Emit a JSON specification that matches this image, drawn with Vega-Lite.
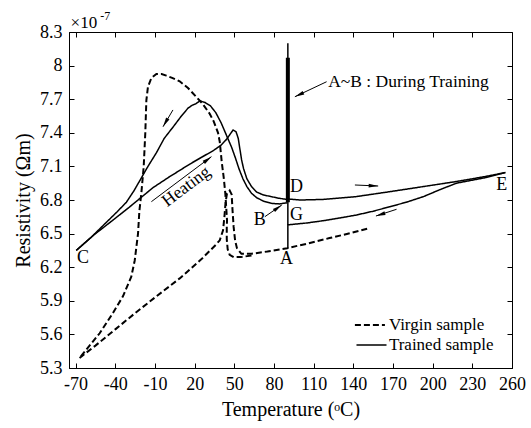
{
  "$schema": "https://vega.github.io/schema/vega-lite/v6.json",
  "width": 443,
  "height": 336,
  "autosize": {"type": "none"},
  "padding": {"left": 69, "top": 32, "right": 19, "bottom": 60},
  "config": {
    "font": "Liberation Serif",
    "view": {"stroke": "black", "strokeWidth": 1},
    "axis": {
      "grid": false,
      "domainColor": "black",
      "tickColor": "black",
      "labelColor": "black",
      "titleColor": "black",
      "labelFont": "Liberation Serif",
      "titleFont": "Liberation Serif",
      "labelFontSize": 18,
      "titleFontSize": 20,
      "titleFontWeight": "normal",
      "tickSize": -5,
      "labelPadding": 12,
      "labelFlush": false,
      "labelOverlap": false
    }
  },
  "datasets": {
    "curves": [
      {"s": "Virgin sample", "g": "V1", "i": 1, "x": -67, "y": 5.39},
      {"s": "Virgin sample", "g": "V1", "i": 2, "x": -55, "y": 5.5},
      {"s": "Virgin sample", "g": "V1", "i": 3, "x": -40, "y": 5.645},
      {"s": "Virgin sample", "g": "V1", "i": 4, "x": -25, "y": 5.79},
      {"s": "Virgin sample", "g": "V1", "i": 5, "x": -10, "y": 5.93},
      {"s": "Virgin sample", "g": "V1", "i": 6, "x": 8.7, "y": 6.1},
      {"s": "Virgin sample", "g": "V1", "i": 7, "x": 25, "y": 6.27},
      {"s": "Virgin sample", "g": "V1", "i": 8, "x": 36, "y": 6.4},
      {"s": "Virgin sample", "g": "V1", "i": 9, "x": 39, "y": 6.44},
      {"s": "Virgin sample", "g": "V1", "i": 10, "x": 41.5, "y": 6.53},
      {"s": "Virgin sample", "g": "V1", "i": 11, "x": 42.6, "y": 6.66},
      {"s": "Virgin sample", "g": "V1", "i": 12, "x": 43.4, "y": 6.78},
      {"s": "Virgin sample", "g": "V1", "i": 13, "x": 44.5, "y": 6.86},
      {"s": "Virgin sample", "g": "V1", "i": 14, "x": 46.5, "y": 6.885},
      {"s": "Virgin sample", "g": "V1", "i": 15, "x": 48, "y": 6.85},
      {"s": "Virgin sample", "g": "V1", "i": 16, "x": 48.6, "y": 6.72},
      {"s": "Virgin sample", "g": "V1", "i": 17, "x": 49.5, "y": 6.56},
      {"s": "Virgin sample", "g": "V1", "i": 18, "x": 50.6, "y": 6.44},
      {"s": "Virgin sample", "g": "V1", "i": 19, "x": 52, "y": 6.37},
      {"s": "Virgin sample", "g": "V1", "i": 20, "x": 55.4, "y": 6.32},
      {"s": "Virgin sample", "g": "V1", "i": 21, "x": 63, "y": 6.32},
      {"s": "Virgin sample", "g": "V1", "i": 22, "x": 75, "y": 6.34},
      {"s": "Virgin sample", "g": "V1", "i": 23, "x": 90, "y": 6.37},
      {"s": "Virgin sample", "g": "V1", "i": 24, "x": 105, "y": 6.41},
      {"s": "Virgin sample", "g": "V1", "i": 25, "x": 122, "y": 6.46},
      {"s": "Virgin sample", "g": "V1", "i": 26, "x": 138, "y": 6.505},
      {"s": "Virgin sample", "g": "V1", "i": 27, "x": 152.5, "y": 6.55},
      {"s": "Virgin sample", "g": "V2", "i": 1, "x": 63, "y": 6.305},
      {"s": "Virgin sample", "g": "V2", "i": 2, "x": 55, "y": 6.29},
      {"s": "Virgin sample", "g": "V2", "i": 3, "x": 49.5, "y": 6.29},
      {"s": "Virgin sample", "g": "V2", "i": 4, "x": 46.5, "y": 6.31},
      {"s": "Virgin sample", "g": "V2", "i": 5, "x": 45, "y": 6.36},
      {"s": "Virgin sample", "g": "V2", "i": 6, "x": 44.3, "y": 6.45},
      {"s": "Virgin sample", "g": "V2", "i": 7, "x": 44.3, "y": 6.55},
      {"s": "Virgin sample", "g": "V2", "i": 8, "x": 44.5, "y": 6.62},
      {"s": "Virgin sample", "g": "V2", "i": 9, "x": 43.2, "y": 6.86},
      {"s": "Virgin sample", "g": "V2", "i": 10, "x": 42, "y": 7.0},
      {"s": "Virgin sample", "g": "V2", "i": 11, "x": 40.5, "y": 7.14},
      {"s": "Virgin sample", "g": "V2", "i": 12, "x": 39, "y": 7.32},
      {"s": "Virgin sample", "g": "V2", "i": 13, "x": 37.7, "y": 7.4},
      {"s": "Virgin sample", "g": "V2", "i": 14, "x": 34.5, "y": 7.5},
      {"s": "Virgin sample", "g": "V2", "i": 15, "x": 31.4, "y": 7.57},
      {"s": "Virgin sample", "g": "V2", "i": 16, "x": 26, "y": 7.66},
      {"s": "Virgin sample", "g": "V2", "i": 17, "x": 21.3, "y": 7.72},
      {"s": "Virgin sample", "g": "V2", "i": 18, "x": 15, "y": 7.8},
      {"s": "Virgin sample", "g": "V2", "i": 19, "x": 8.7, "y": 7.86},
      {"s": "Virgin sample", "g": "V2", "i": 20, "x": 3, "y": 7.89},
      {"s": "Virgin sample", "g": "V2", "i": 21, "x": -1.4, "y": 7.91},
      {"s": "Virgin sample", "g": "V2", "i": 22, "x": -5, "y": 7.925},
      {"s": "Virgin sample", "g": "V2", "i": 23, "x": -8.9, "y": 7.925},
      {"s": "Virgin sample", "g": "V2", "i": 24, "x": -12.7, "y": 7.89},
      {"s": "Virgin sample", "g": "V2", "i": 25, "x": -15.3, "y": 7.81},
      {"s": "Virgin sample", "g": "V2", "i": 26, "x": -16.5, "y": 7.69},
      {"s": "Virgin sample", "g": "V2", "i": 27, "x": -17.3, "y": 7.4},
      {"s": "Virgin sample", "g": "V2", "i": 28, "x": -18.5, "y": 7.1},
      {"s": "Virgin sample", "g": "V2", "i": 29, "x": -20.3, "y": 6.86},
      {"s": "Virgin sample", "g": "V2", "i": 30, "x": -21.8, "y": 6.7},
      {"s": "Virgin sample", "g": "V2", "i": 31, "x": -22.8, "y": 6.5},
      {"s": "Virgin sample", "g": "V2", "i": 32, "x": -25.3, "y": 6.26},
      {"s": "Virgin sample", "g": "V2", "i": 33, "x": -27.9, "y": 6.115},
      {"s": "Virgin sample", "g": "V2", "i": 34, "x": -34.2, "y": 5.94},
      {"s": "Virgin sample", "g": "V2", "i": 35, "x": -41.8, "y": 5.79},
      {"s": "Virgin sample", "g": "V2", "i": 36, "x": -51.8, "y": 5.61},
      {"s": "Virgin sample", "g": "V2", "i": 37, "x": -67, "y": 5.39},
      {"s": "Trained sample", "g": "T1", "i": 1, "x": 90, "y": 6.775},
      {"s": "Trained sample", "g": "T1", "i": 2, "x": 84, "y": 6.765},
      {"s": "Trained sample", "g": "T1", "i": 3, "x": 78, "y": 6.77},
      {"s": "Trained sample", "g": "T1", "i": 4, "x": 72, "y": 6.79},
      {"s": "Trained sample", "g": "T1", "i": 5, "x": 67, "y": 6.82},
      {"s": "Trained sample", "g": "T1", "i": 6, "x": 63, "y": 6.86},
      {"s": "Trained sample", "g": "T1", "i": 7, "x": 59.5, "y": 6.92},
      {"s": "Trained sample", "g": "T1", "i": 8, "x": 56.5, "y": 6.99},
      {"s": "Trained sample", "g": "T1", "i": 9, "x": 53.5, "y": 7.08},
      {"s": "Trained sample", "g": "T1", "i": 10, "x": 51, "y": 7.17},
      {"s": "Trained sample", "g": "T1", "i": 11, "x": 48, "y": 7.27},
      {"s": "Trained sample", "g": "T1", "i": 12, "x": 44, "y": 7.38},
      {"s": "Trained sample", "g": "T1", "i": 13, "x": 40, "y": 7.49},
      {"s": "Trained sample", "g": "T1", "i": 14, "x": 36, "y": 7.58},
      {"s": "Trained sample", "g": "T1", "i": 15, "x": 32, "y": 7.64},
      {"s": "Trained sample", "g": "T1", "i": 16, "x": 28, "y": 7.67},
      {"s": "Trained sample", "g": "T1", "i": 17, "x": 24, "y": 7.685},
      {"s": "Trained sample", "g": "T1", "i": 18, "x": 21, "y": 7.66},
      {"s": "Trained sample", "g": "T1", "i": 19, "x": 18, "y": 7.645},
      {"s": "Trained sample", "g": "T1", "i": 20, "x": 15, "y": 7.62},
      {"s": "Trained sample", "g": "T1", "i": 21, "x": 10, "y": 7.55},
      {"s": "Trained sample", "g": "T1", "i": 22, "x": 3.6, "y": 7.45},
      {"s": "Trained sample", "g": "T1", "i": 23, "x": -3, "y": 7.35},
      {"s": "Trained sample", "g": "T1", "i": 24, "x": -9, "y": 7.22},
      {"s": "Trained sample", "g": "T1", "i": 25, "x": -15.3, "y": 7.1},
      {"s": "Trained sample", "g": "T1", "i": 26, "x": -21.6, "y": 6.97},
      {"s": "Trained sample", "g": "T1", "i": 27, "x": -26, "y": 6.88},
      {"s": "Trained sample", "g": "T1", "i": 28, "x": -31.6, "y": 6.78},
      {"s": "Trained sample", "g": "T1", "i": 29, "x": -39, "y": 6.69},
      {"s": "Trained sample", "g": "T1", "i": 30, "x": -46.8, "y": 6.6},
      {"s": "Trained sample", "g": "T1", "i": 31, "x": -58, "y": 6.47},
      {"s": "Trained sample", "g": "T1", "i": 32, "x": -69.5, "y": 6.35},
      {"s": "Trained sample", "g": "T2", "i": 1, "x": -69.5, "y": 6.35},
      {"s": "Trained sample", "g": "T2", "i": 2, "x": -56, "y": 6.49},
      {"s": "Trained sample", "g": "T2", "i": 3, "x": -41.8, "y": 6.62},
      {"s": "Trained sample", "g": "T2", "i": 4, "x": -30, "y": 6.73},
      {"s": "Trained sample", "g": "T2", "i": 5, "x": -22.8, "y": 6.8},
      {"s": "Trained sample", "g": "T2", "i": 6, "x": -11.5, "y": 6.91},
      {"s": "Trained sample", "g": "T2", "i": 7, "x": 0, "y": 7.0},
      {"s": "Trained sample", "g": "T2", "i": 8, "x": 16.3, "y": 7.12},
      {"s": "Trained sample", "g": "T2", "i": 9, "x": 25, "y": 7.18},
      {"s": "Trained sample", "g": "T2", "i": 10, "x": 34, "y": 7.24},
      {"s": "Trained sample", "g": "T2", "i": 11, "x": 40, "y": 7.29},
      {"s": "Trained sample", "g": "T2", "i": 12, "x": 44, "y": 7.34},
      {"s": "Trained sample", "g": "T2", "i": 13, "x": 47, "y": 7.39},
      {"s": "Trained sample", "g": "T2", "i": 14, "x": 49.1, "y": 7.425},
      {"s": "Trained sample", "g": "T2", "i": 15, "x": 51.3, "y": 7.41},
      {"s": "Trained sample", "g": "T2", "i": 16, "x": 53, "y": 7.35},
      {"s": "Trained sample", "g": "T2", "i": 17, "x": 54.3, "y": 7.25},
      {"s": "Trained sample", "g": "T2", "i": 18, "x": 55.5, "y": 7.16},
      {"s": "Trained sample", "g": "T2", "i": 19, "x": 57, "y": 7.08},
      {"s": "Trained sample", "g": "T2", "i": 20, "x": 59.5, "y": 6.99},
      {"s": "Trained sample", "g": "T2", "i": 21, "x": 63, "y": 6.92},
      {"s": "Trained sample", "g": "T2", "i": 22, "x": 67, "y": 6.87},
      {"s": "Trained sample", "g": "T2", "i": 23, "x": 72, "y": 6.845},
      {"s": "Trained sample", "g": "T2", "i": 24, "x": 78, "y": 6.83},
      {"s": "Trained sample", "g": "T2", "i": 25, "x": 84, "y": 6.815},
      {"s": "Trained sample", "g": "T2", "i": 26, "x": 90, "y": 6.805},
      {"s": "Trained sample", "g": "T3", "i": 1, "x": 90, "y": 6.81},
      {"s": "Trained sample", "g": "T3", "i": 2, "x": 100, "y": 6.8},
      {"s": "Trained sample", "g": "T3", "i": 3, "x": 117, "y": 6.805},
      {"s": "Trained sample", "g": "T3", "i": 4, "x": 142, "y": 6.83},
      {"s": "Trained sample", "g": "T3", "i": 5, "x": 168, "y": 6.875},
      {"s": "Trained sample", "g": "T3", "i": 6, "x": 193, "y": 6.92},
      {"s": "Trained sample", "g": "T3", "i": 7, "x": 218, "y": 6.965},
      {"s": "Trained sample", "g": "T3", "i": 8, "x": 240, "y": 7.01},
      {"s": "Trained sample", "g": "T3", "i": 9, "x": 255, "y": 7.045},
      {"s": "Trained sample", "g": "T4", "i": 1, "x": 255, "y": 7.045},
      {"s": "Trained sample", "g": "T4", "i": 2, "x": 240, "y": 7.0},
      {"s": "Trained sample", "g": "T4", "i": 3, "x": 218, "y": 6.95},
      {"s": "Trained sample", "g": "T4", "i": 4, "x": 205, "y": 6.89},
      {"s": "Trained sample", "g": "T4", "i": 5, "x": 193, "y": 6.83},
      {"s": "Trained sample", "g": "T4", "i": 6, "x": 180, "y": 6.78},
      {"s": "Trained sample", "g": "T4", "i": 7, "x": 167.7, "y": 6.74},
      {"s": "Trained sample", "g": "T4", "i": 8, "x": 155, "y": 6.7},
      {"s": "Trained sample", "g": "T4", "i": 9, "x": 142.4, "y": 6.666},
      {"s": "Trained sample", "g": "T4", "i": 10, "x": 130, "y": 6.64},
      {"s": "Trained sample", "g": "T4", "i": 11, "x": 117.2, "y": 6.615},
      {"s": "Trained sample", "g": "T4", "i": 12, "x": 105, "y": 6.595},
      {"s": "Trained sample", "g": "T4", "i": 13, "x": 92, "y": 6.58},
      {"s": "Trained sample", "g": "T4", "i": 14, "x": 90.5, "y": 6.58},
      {"s": "Trained sample", "g": "T4", "i": 15, "x": 90.5, "y": 6.37},
      {"s": "Trained sample", "g": "AB", "i": 1, "x": 90.5, "y": 6.58},
      {"s": "Trained sample", "g": "AB", "i": 2, "x": 90.5, "y": 8.2}
    ],
    "thick": [
      {"g": "AB", "i": 1, "x": 90.5, "y": 6.78},
      {"g": "AB", "i": 2, "x": 90.5, "y": 8.07}
    ],
    "key": [
      {"s": "Virgin sample", "x": 141.2, "x2": 163.9, "y": 5.684, "tx": 166.9},
      {"s": "Trained sample", "x": 142.4, "x2": 165.1, "y": 5.505, "tx": 166.9}
    ],
    "arrows": [
      {"x": 3.6, "y": 7.604, "x2": -3.9, "y2": 7.454, "dir": 210},
      {"x": -12.7, "y": 6.785, "x2": 32.7, "y2": 7.187, "dir": 53},
      {"x": 141.2, "y": 6.934, "x2": 158.8, "y2": 6.925, "dir": 92},
      {"x": 172.7, "y": 6.717, "x2": 157.1, "y2": 6.657, "dir": 252},
      {"x": 73.1, "y": 6.651, "x2": 85.9, "y2": 6.755, "dir": 55},
      {"x": 119.8, "y": 7.856, "x2": 95.8, "y2": 7.722, "dir": 245}
    ],
    "letters": [
      {"t": "A", "x": 89.5, "y": 6.27},
      {"t": "B", "x": 69.3, "y": 6.62},
      {"t": "C", "x": -64.5, "y": 6.28},
      {"t": "D", "x": 97, "y": 6.92},
      {"t": "G", "x": 97, "y": 6.666},
      {"t": "E", "x": 252.2, "y": 6.934}
    ],
    "notes": [
      {"t": "A~B : During Training", "x": 121, "y": 7.856}
    ],
    "heat": [
      {"t": "Heating", "x": 13.8, "y": 6.92}
    ],
    "expbase": [
      {"t": "×10", "x": -73.8, "y": 8.38}
    ],
    "exppow": [
      {"t": "-7", "x": -51.3, "y": 8.445}
    ]
  },
  "layer": [
    {
      "data": {"name": "curves"},
      "mark": {"type": "line", "color": "black", "strokeCap": "butt"},
      "encoding": {
        "x": {"field": "x", "type": "quantitative", "scale": {"domain": [-75, 260], "nice": false, "zero": false},
          "axis": {"orient": "bottom", "title": "Temperature (ᵒC)", "labelFont": "Liberation Serif", "values": [-70, -40, -10, 20, 50, 80, 110, 140, 170, 200, 230, 260], "labelExpr": "'' + datum.value", "titlePadding": 6}},
        "y": {"field": "y", "type": "quantitative", "scale": {"domain": [5.3, 8.3], "nice": false, "zero": false},
          "axis": {"orient": "left", "title": "Resistivity (Ωm)", "labelFont": "Liberation Serif", "values": [5.3, 5.6, 5.9, 6.2, 6.5, 6.8, 7.1, 7.4, 7.7, 8, 8.3], "format": "~g", "titlePadding": 6}},
        "detail": {"field": "g"},
        "order": {"field": "i", "type": "quantitative"},
        "strokeDash": {"field": "s", "type": "nominal",
          "scale": {"domain": ["Virgin sample", "Trained sample"], "range": [[6, 3], [1, 0]]}, "legend": null},
        "strokeWidth": {"field": "s", "type": "nominal", "scale": {"domain": ["Virgin sample", "Trained sample"], "range": [2, 1.5]}, "legend": null}
      }
    },
    {
      "data": {"name": "thick"},
      "mark": {"type": "line", "color": "black", "strokeWidth": 4},
      "encoding": {
        "x": {"field": "x", "type": "quantitative", "scale": {"domain": [-75, 260], "nice": false, "zero": false}, "axis": null},
        "y": {"field": "y", "type": "quantitative", "scale": {"domain": [5.3, 8.3], "nice": false, "zero": false}, "axis": null},
        "order": {"field": "i", "type": "quantitative"}
      }
    },
    {
      "data": {"name": "key"},
      "mark": {"type": "rule", "color": "black"},
      "encoding": {
        "x": {"field": "x", "type": "quantitative", "scale": {"domain": [-75, 260], "nice": false, "zero": false}, "axis": null},
        "y": {"field": "y", "type": "quantitative", "scale": {"domain": [5.3, 8.3], "nice": false, "zero": false}, "axis": null},
        "x2": {"field": "x2"},
        "strokeDash": {"field": "s", "type": "nominal",
          "scale": {"domain": ["Virgin sample", "Trained sample"], "range": [[6, 3], [1, 0]]}, "legend": null},
        "strokeWidth": {"field": "s", "type": "nominal", "scale": {"domain": ["Virgin sample", "Trained sample"], "range": [2, 1.5]}, "legend": null}
      }
    },
    {
      "data": {"name": "key"},
      "mark": {"type": "text", "font": "Liberation Serif", "fontSize": 17, "color": "black", "align": "left", "baseline": "middle"},
      "encoding": {
        "x": {"field": "tx", "type": "quantitative", "scale": {"domain": [-75, 260], "nice": false, "zero": false}, "axis": null},
        "y": {"field": "y", "type": "quantitative", "scale": {"domain": [5.3, 8.3], "nice": false, "zero": false}, "axis": null},
        "text": {"field": "s"}
      }
    },
    {
      "data": {"name": "arrows"},
      "mark": {"type": "rule", "color": "black", "strokeWidth": 1},
      "encoding": {
        "x": {"field": "x", "type": "quantitative", "scale": {"domain": [-75, 260], "nice": false, "zero": false}, "axis": null},
        "y": {"field": "y", "type": "quantitative", "scale": {"domain": [5.3, 8.3], "nice": false, "zero": false}, "axis": null},
        "x2": {"field": "x2"},
        "y2": {"field": "y2"}
      }
    },
    {
      "data": {"name": "arrows"},
      "mark": {"type": "point", "shape": "M0,0L-0.38,1.9L0.38,1.9Z", "filled": true, "color": "black", "size": 100, "opacity": 1},
      "encoding": {
        "x": {"field": "x2", "type": "quantitative", "scale": {"domain": [-75, 260], "nice": false, "zero": false}, "axis": null},
        "y": {"field": "y2", "type": "quantitative", "scale": {"domain": [5.3, 8.3], "nice": false, "zero": false}, "axis": null},
        "angle": {"field": "dir", "type": "quantitative", "scale": null}
      }
    },
    {
      "data": {"name": "letters"},
      "mark": {"type": "text", "font": "Liberation Serif", "fontSize": 18, "color": "black", "align": "center", "baseline": "middle"},
      "encoding": {
        "x": {"field": "x", "type": "quantitative", "scale": {"domain": [-75, 260], "nice": false, "zero": false}, "axis": null},
        "y": {"field": "y", "type": "quantitative", "scale": {"domain": [5.3, 8.3], "nice": false, "zero": false}, "axis": null},
        "text": {"field": "t"}
      }
    },
    {
      "data": {"name": "notes"},
      "mark": {"type": "text", "font": "Liberation Serif", "fontSize": 17.5, "color": "black", "align": "left", "baseline": "middle"},
      "encoding": {
        "x": {"field": "x", "type": "quantitative", "scale": {"domain": [-75, 260], "nice": false, "zero": false}, "axis": null},
        "y": {"field": "y", "type": "quantitative", "scale": {"domain": [5.3, 8.3], "nice": false, "zero": false}, "axis": null},
        "text": {"field": "t"}
      }
    },
    {
      "data": {"name": "heat"},
      "mark": {"type": "text", "font": "Liberation Serif", "fontSize": 17.5, "color": "black", "align": "center", "baseline": "middle", "angle": -37},
      "encoding": {
        "x": {"field": "x", "type": "quantitative", "scale": {"domain": [-75, 260], "nice": false, "zero": false}, "axis": null},
        "y": {"field": "y", "type": "quantitative", "scale": {"domain": [5.3, 8.3], "nice": false, "zero": false}, "axis": null},
        "text": {"field": "t"}
      }
    },
    {
      "data": {"name": "expbase"},
      "mark": {"type": "text", "font": "Liberation Serif", "fontSize": 17, "color": "black", "align": "left", "baseline": "middle"},
      "encoding": {
        "x": {"field": "x", "type": "quantitative", "scale": {"domain": [-75, 260], "nice": false, "zero": false}, "axis": null},
        "y": {"field": "y", "type": "quantitative", "scale": {"domain": [5.3, 8.3], "nice": false, "zero": false}, "axis": null},
        "text": {"field": "t"}
      }
    },
    {
      "data": {"name": "exppow"},
      "mark": {"type": "text", "font": "Liberation Serif", "fontSize": 12, "color": "black", "align": "left", "baseline": "middle"},
      "encoding": {
        "x": {"field": "x", "type": "quantitative", "scale": {"domain": [-75, 260], "nice": false, "zero": false}, "axis": null},
        "y": {"field": "y", "type": "quantitative", "scale": {"domain": [5.3, 8.3], "nice": false, "zero": false}, "axis": null},
        "text": {"field": "t"}
      }
    },
    {
      "data": {"name": "letters"},
      "mark": {"type": "point", "opacity": 0},
      "encoding": {
        "x": {"field": "x", "type": "quantitative", "scale": {"domain": [-75, 260], "nice": false, "zero": false},
          "axis": {"orient": "top", "title": null, "labels": false, "domain": false, "values": [-70, -40, -10, 20, 50, 80, 110, 140, 170, 200, 230, 260]}},
        "y": {"field": "y", "type": "quantitative", "scale": {"domain": [5.3, 8.3], "nice": false, "zero": false},
          "axis": {"orient": "right", "title": null, "labels": false, "domain": false, "values": [5.3, 5.6, 5.9, 6.2, 6.5, 6.8, 7.1, 7.4, 7.7, 8, 8.3]}}
      }
    }
  ],
  "resolve": {"axis": {"x": "independent", "y": "independent"}}
}
